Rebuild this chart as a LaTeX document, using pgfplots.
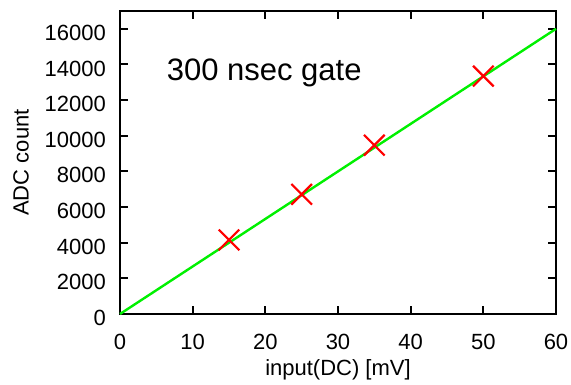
\documentclass[border=0pt]{standalone}
\usepackage{pgfplots}
\pgfplotsset{compat=1.18}
\usepackage{fontspec}
\setmainfont{Liberation Sans}
\begin{document}
\begin{tikzpicture}
\path[use as bounding box] (-120bp,-71bp) rectangle (451bp,314bp);
\begin{axis}[
  scale only axis,
  width=436bp, height=303bp,
  at={(0,0)}, anchor=south west,
  xmin=0, xmax=60, ymin=0, ymax=17000,
  xtick={0,10,...,60},
  ytick={0,2000,...,16000},
  scaled ticks=false,
  /pgf/number format/assume math mode=true,
  /pgf/number format/set thousands separator={},
  tick align=inside,
  major tick length=8bp,
  axis line style={line width=2bp},
  every tick/.style={line width=2bp, black},
  tick label style={font=\fontsize{22bp}{26bp}\selectfont, inner sep=0pt},
  xticklabel style={anchor=base, yshift=-35bp},
  yticklabel style={anchor=east, xshift=-14bp, yshift=-4bp},
  label style={font=\fontsize{22bp}{26bp}\selectfont, inner sep=0pt},
  xlabel={input(DC) [mV]},
  ylabel={ADC count},
  xlabel style={at={(axis description cs:0.5,0)}, anchor=base, yshift=-61bp},
  ylabel style={at={(axis description cs:-0.227,0.5)}, anchor=center},
  clip=false,
]
\addplot[color={rgb,255:red,0;green,240;blue,0}, line width=2.4bp, no marks] coordinates {(0,0) (60,16000)};
\addplot[only marks, mark=x, mark size=14.6bp, color=red, mark options={line width=2.2bp}] coordinates {
  (15,4157) (25,6713) (35,9471) (50,13348)
};
\node[anchor=base west, inner sep=0pt, font=\fontsize{31bp}{36bp}\selectfont] at (axis description cs:0.107,0.770) {300 nsec gate};
\end{axis}
\end{tikzpicture}
\end{document}
